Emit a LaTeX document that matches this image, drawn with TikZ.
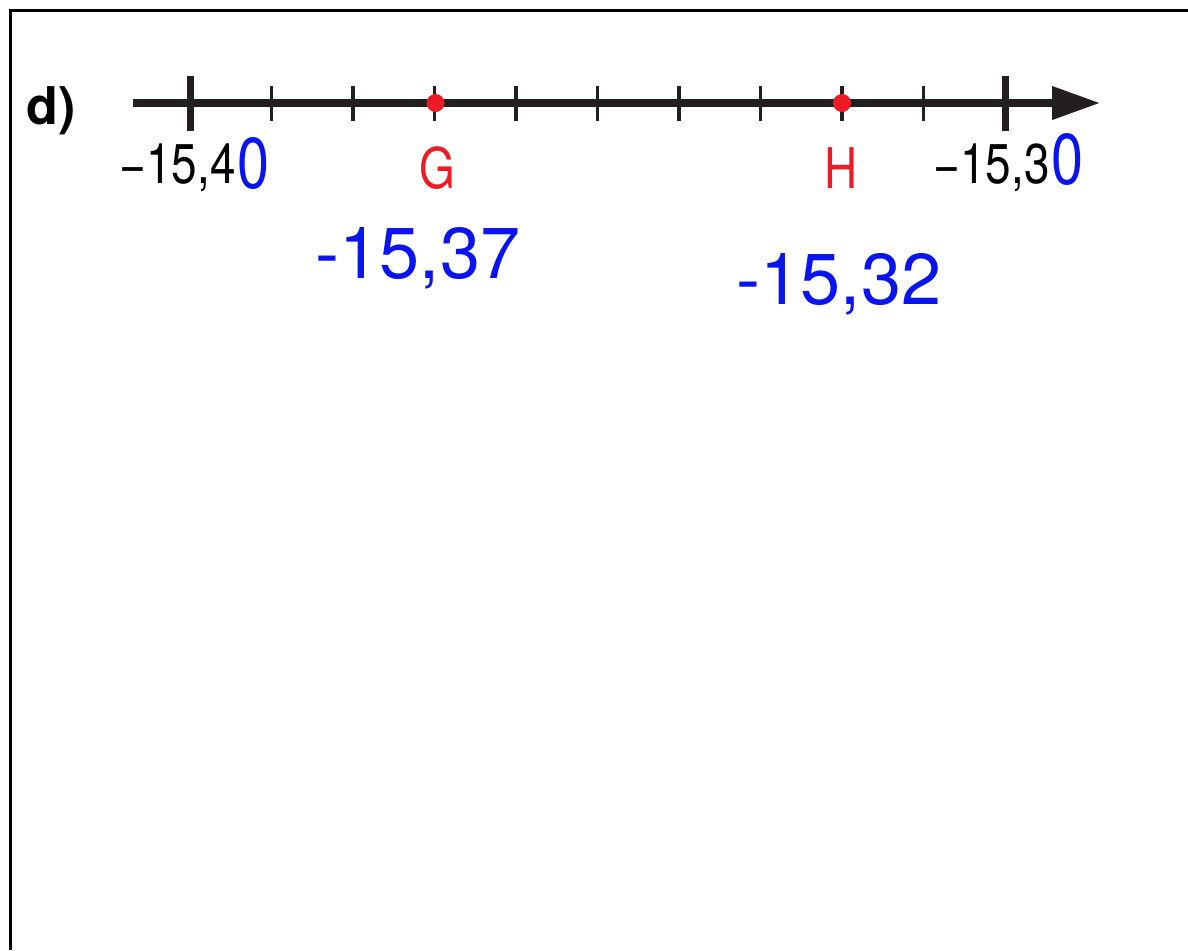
\documentclass[tikz,border=0pt]{standalone}
\usepackage{fontspec}
\setmainfont{TeX Gyre Heros}
\usepackage{graphicx}
\usetikzlibrary{arrows.meta,positioning}
\definecolor{puntorosso}{HTML}{ED1C24}
\definecolor{penna}{HTML}{0A14F0}
\definecolor{asse}{HTML}{231F20}

\begin{document}
\begin{tikzpicture}[x=0.5pt, y=-0.5pt, line cap=butt,
  bigtick/.style={asse, line width=3.5pt},
  smalltick/.style={asse, line width=1.6pt},
  punto/.style={circle, fill=puntorosso, inner sep=0pt, minimum size=9pt},
  etichetta/.style={font=\fontsize{28}{30}\selectfont, inner sep=0pt},
  scritta/.style={penna, font=\fontsize{36}{40}\selectfont, inner sep=0pt}]

\useasboundingbox (0,0) rectangle (1188,950);

% Cornice
\draw[line width=1.5pt] (1188,10) -- (10,10) -- (10,950);

% Retta numerica
\coordinate (inizio) at (133,103);
\coordinate (fine) at (1100,103);
\draw[asse, line width=3.6pt, -{Triangle[length=24pt, width=16pt]}] (inizio) -- (fine);

% Tacche
\draw[bigtick] (190,76) -- (190,131);
\draw[bigtick] (1005,76) -- (1005,131);
\foreach \k in {1,...,9}
  \draw[smalltick] ({190+81.5*\k},86) -- ({190+81.5*\k},121);

% Punti G e H
\node[punto] (G) at (435.5,103) {};
\node[punto] (H) at (842,103) {};

% Etichette
\node[font=\bfseries\fontsize{26}{30}\selectfont] (lettera) at (51,111) {d)};
\node[etichetta, anchor=east] (lab40) at (236,168) {\scalebox{0.82}[1]{−15,4}};
\node[etichetta, anchor=east] (lab30) at (1050,168) {\scalebox{0.82}[1]{−15,3}};
\node[etichetta, puntorosso] (labG) at (437,168) {\scalebox{0.82}[1]{G}};
\node[etichetta, puntorosso] (labH) at (841,168) {\scalebox{0.82}[1]{H}};

% Scritte a mano (blu)
\node[scritta, anchor=west] (zero40) at (237,164) {\scalebox{0.8}[1]{0}};
\node[scritta, anchor=west] (zero30) at (1051,160) {\scalebox{0.8}[1]{0}};
\node[scritta] (valG) at (418,258) {-15,37};
\node[scritta] (valH) at (839,284) {-15,32};

\end{tikzpicture}
\end{document}
